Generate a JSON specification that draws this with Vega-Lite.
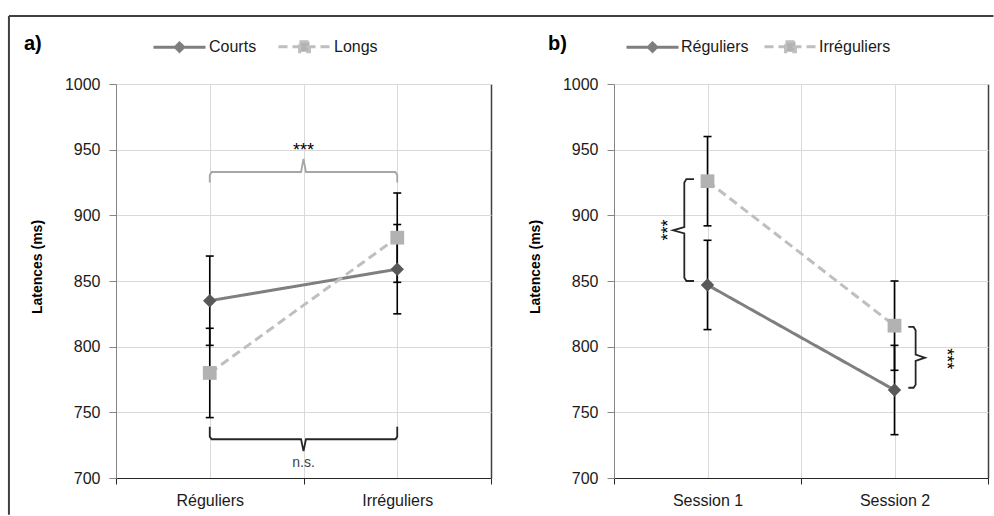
{
  "$schema": "https://vega.github.io/schema/vega-lite/v6.json",
  "background": "white",
  "padding": {"left": 7, "top": 14, "right": 0, "bottom": 0},
  "spacing": 123,
  "bounds": "flush",
  "resolve": {"scale": {"color": "independent", "strokeDash": "independent", "x": "independent", "y": "independent"}, "legend": {"color": "independent"}},
  "config": {
    "font": "Liberation Sans",
    "view": {"stroke": null},
    "axisX": {"domainColor": "#262626", "tickColor": "#262626", "tickSize": 6, "labelPadding": 8, "labelFontSize": 16, "labelColor": "#1a1a1a", "labelFlush": false, "labelOverlap": false, "title": null, "grid": true, "domainWidth": 1.2},
    "axisY": {"domainColor": "#868686", "tickColor": "#868686", "tickSize": 7, "labelPadding": 9, "labelFontSize": 16, "labelColor": "#1a1a1a", "format": "d", "grid": true, "gridColor": "#d9d9d9", "titleFontSize": 14, "titleFontWeight": "bold", "titleColor": "#000000", "titleX": -72, "titleY": 182.5}
  },
  "datasets": {
    "a": [
      {"serie": "Courts", "cond": 1, "mean": 835, "lo": 801, "hi": 869},
      {"serie": "Courts", "cond": 2, "mean": 859, "lo": 825, "hi": 893},
      {"serie": "Longs", "cond": 1, "mean": 780, "lo": 746, "hi": 814},
      {"serie": "Longs", "cond": 2, "mean": 883, "lo": 849, "hi": 917}
    ],
    "b": [
      {"serie": "Réguliers", "session": 1, "mean": 847, "lo": 813, "hi": 881},
      {"serie": "Réguliers", "session": 2, "mean": 767, "lo": 733, "hi": 801},
      {"serie": "Irréguliers", "session": 1, "mean": 926, "lo": 892, "hi": 960},
      {"serie": "Irréguliers", "session": 2, "mean": 816, "lo": 782, "hi": 850}
    ],
    "bracketsA": [
      {"id": "sig", "ord": 1, "x": 1, "y": 925},
      {"id": "sig", "ord": 2, "x": 1, "y": 930.5},
      {"id": "sig", "ord": 3, "x": 1.01, "y": 933},
      {"id": "sig", "ord": 4, "x": 1.487, "y": 933},
      {"id": "sig", "ord": 5, "x": 1.5, "y": 943},
      {"id": "sig", "ord": 6, "x": 1.513, "y": 933},
      {"id": "sig", "ord": 7, "x": 1.99, "y": 933},
      {"id": "sig", "ord": 8, "x": 2, "y": 930.5},
      {"id": "sig", "ord": 9, "x": 2, "y": 925},
      {"id": "ns", "ord": 1, "x": 1, "y": 739},
      {"id": "ns", "ord": 2, "x": 1, "y": 731.5},
      {"id": "ns", "ord": 3, "x": 1.01, "y": 729.5},
      {"id": "ns", "ord": 4, "x": 1.487, "y": 729.5},
      {"id": "ns", "ord": 5, "x": 1.5, "y": 720.5},
      {"id": "ns", "ord": 6, "x": 1.513, "y": 729.5},
      {"id": "ns", "ord": 7, "x": 1.99, "y": 729.5},
      {"id": "ns", "ord": 8, "x": 2, "y": 731.5},
      {"id": "ns", "ord": 9, "x": 2, "y": 739}
    ],
    "bracketsB": [
      {"id": "s1", "ord": 1, "x": 0.928, "y": 927.6},
      {"id": "s1", "ord": 2, "x": 0.887, "y": 927.6},
      {"id": "s1", "ord": 3, "x": 0.876, "y": 925},
      {"id": "s1", "ord": 4, "x": 0.876, "y": 891},
      {"id": "s1", "ord": 5, "x": 0.816, "y": 888.6},
      {"id": "s1", "ord": 6, "x": 0.876, "y": 886.2},
      {"id": "s1", "ord": 7, "x": 0.876, "y": 852.5},
      {"id": "s1", "ord": 8, "x": 0.887, "y": 850},
      {"id": "s1", "ord": 9, "x": 0.928, "y": 850},
      {"id": "s2", "ord": 1, "x": 2.074, "y": 815},
      {"id": "s2", "ord": 2, "x": 2.102, "y": 815},
      {"id": "s2", "ord": 3, "x": 2.113, "y": 812.5},
      {"id": "s2", "ord": 4, "x": 2.113, "y": 794},
      {"id": "s2", "ord": 5, "x": 2.163, "y": 791.6},
      {"id": "s2", "ord": 6, "x": 2.113, "y": 789.2},
      {"id": "s2", "ord": 7, "x": 2.113, "y": 771},
      {"id": "s2", "ord": 8, "x": 2.102, "y": 768.7},
      {"id": "s2", "ord": 9, "x": 2.074, "y": 768.7}
    ],
    "notesA": [
      {"id": "sig", "txt": "***", "x": 1.5, "y": 945.5},
      {"id": "ns", "txt": "n.s.", "x": 1.5, "y": 708.4}
    ],
    "notesB": [
      {"id": "s1", "txt": "***", "x": 0.819, "y": 888.8},
      {"id": "s2", "txt": "***", "x": 2.248, "y": 790.8}
    ]
  },
  "hconcat": [
    {
      "width": 375,
      "height": 394,
      "title": {"text": "a)", "anchor": "start", "frame": "group", "dx": -92, "dy": 59, "offset": 0, "baseline": "bottom", "fontSize": 20, "fontWeight": "bold", "color": "#000000"},
      "layer": [
        {
          "data": {"values": [{}]},
          "mark": {"type": "rule", "color": "#404040", "strokeWidth": 2},
          "encoding": {
            "x": {"datum": -0.071, "type": "quantitative", "scale": {"domain": [0.5, 2.5], "nice": false, "zero": false}},
            "x2": {"datum": 5.18},
            "y": {"datum": 1051.8, "type": "quantitative", "scale": {"domain": [700, 1000], "nice": false, "zero": false}}
          }
        },
        {
          "data": {"values": [{}]},
          "mark": {"type": "rule", "color": "#404040", "strokeWidth": 2},
          "encoding": {
            "x": {"datum": -0.071, "type": "quantitative", "scale": {"domain": [0.5, 2.5], "nice": false, "zero": false}},
            "y": {"datum": 1051.8, "type": "quantitative", "scale": {"domain": [700, 1000], "nice": false, "zero": false}},
            "y2": {"datum": 672}
          }
        },
        {
          "data": {"name": "bracketsA"},
          "transform": [{"filter": "datum.id === 'sig'"}],
          "mark": {"type": "line", "color": "#a6a6a6", "strokeWidth": 1.8},
          "encoding": {
            "x": {"field": "x", "type": "quantitative", "scale": {"domain": [0.5, 2.5], "nice": false, "zero": false}},
            "y": {"field": "y", "type": "quantitative", "scale": {"domain": [700, 1000], "nice": false, "zero": false}},
            "order": {"field": "ord"}
          }
        },
        {
          "data": {"name": "bracketsA"},
          "transform": [{"filter": "datum.id === 'ns'"}],
          "mark": {"type": "line", "color": "#262626", "strokeWidth": 1.8},
          "encoding": {
            "x": {"field": "x", "type": "quantitative", "scale": {"domain": [0.5, 2.5], "nice": false, "zero": false}},
            "y": {"field": "y", "type": "quantitative", "scale": {"domain": [700, 1000], "nice": false, "zero": false}},
            "order": {"field": "ord"}
          }
        },
        {
          "data": {"name": "notesA"},
          "transform": [{"filter": "datum.id === 'sig'"}],
          "mark": {"type": "text", "fontSize": 18, "baseline": "alphabetic", "align": "center", "color": "#000000"},
          "encoding": {
            "x": {"field": "x", "type": "quantitative", "scale": {"domain": [0.5, 2.5], "nice": false, "zero": false}},
            "y": {"field": "y", "type": "quantitative", "scale": {"domain": [700, 1000], "nice": false, "zero": false}},
            "text": {"field": "txt"}
          }
        },
        {
          "data": {"name": "notesA"},
          "transform": [{"filter": "datum.id === 'ns'"}],
          "mark": {"type": "text", "fontSize": 14, "baseline": "alphabetic", "align": "center", "color": "#404040"},
          "encoding": {
            "x": {"field": "x", "type": "quantitative", "scale": {"domain": [0.5, 2.5], "nice": false, "zero": false}},
            "y": {"field": "y", "type": "quantitative", "scale": {"domain": [700, 1000], "nice": false, "zero": false}},
            "text": {"field": "txt"}
          }
        },
        {
          "data": {"name": "a"},
          "mark": {"type": "line", "strokeWidth": 3},
          "encoding": {
            "x": {"field": "cond", "type": "quantitative", "scale": {"domain": [0.5, 2.5], "nice": false, "zero": false},
              "axis": {"values": [0.5, 1, 1.5, 2, 2.5], "labelExpr": "datum.value == 1 ? 'Réguliers' : datum.value == 2 ? 'Irréguliers' : ''",
                "gridColor": {"condition": {"test": "datum.value == 2.5", "value": "#404040"}, "value": "#d9d9d9"},
                "gridWidth": {"condition": {"test": "datum.value == 2.5", "value": 1.5}, "value": 1},
                "tickOpacity": {"condition": {"test": "datum.value == 1 || datum.value == 2", "value": 0}, "value": 1}}},
            "y": {"field": "mean", "type": "quantitative", "scale": {"domain": [700, 1000], "nice": false, "zero": false},
              "axis": {"values": [700, 750, 800, 850, 900, 950, 1000], "title": "Latences (ms)"}},
            "color": {"field": "serie", "type": "nominal", "scale": {"domain": ["Courts", "Longs"], "range": ["#7f7f7f", "#bfbfbf"]},
              "legend": {"orient": "none", "legendX": 36, "legendY": -65, "direction": "horizontal", "title": null, "padding": 0,
                "symbolSize": 2704, "symbolStrokeWidth": 3, "labelFontSize": 16, "labelColor": "#1a1a1a", "labelOffset": 2, "columnPadding": 15,
                "encode": {"symbols": {"update": {
                  "shape": {"signal": "datum.value === 'Courts' ? 'M-1,0H1M0,-0.16L0.16,0L0,0.16L-0.16,0Z' : 'M-1,0H1M-0.19,-0.19H0.19V0.19H-0.19Z'"},
                  "fill": {"signal": "datum.value === 'Courts' ? '#595959' : '#b2b2b2'"},
                  "fillOpacity": {"value": 1},
                  "opacity": {"value": 1},
                  "strokeDash": {"signal": "datum.value === 'Courts' ? [1, 0] : [7, 4]"}
                }}}}},
            "strokeDash": {"field": "serie", "type": "nominal", "scale": {"domain": ["Courts", "Longs"], "range": [[1, 0], [9, 5]]}, "legend": null}
          }
        },
        {
          "data": {"name": "a"},
          "mark": {"type": "rule", "color": "#000000", "strokeWidth": 1.6},
          "encoding": {
            "x": {"field": "cond", "type": "quantitative", "scale": {"domain": [0.5, 2.5], "nice": false, "zero": false}},
            "y": {"field": "lo", "type": "quantitative", "scale": {"domain": [700, 1000], "nice": false, "zero": false}},
            "y2": {"field": "hi"}
          }
        },
        {
          "data": {"name": "a"},
          "transform": [{"fold": ["lo", "hi"], "as": ["bound", "yv"]}],
          "mark": {"type": "tick", "orient": "horizontal", "color": "#000000", "size": 8, "thickness": 1.6, "opacity": 1},
          "encoding": {
            "x": {"field": "cond", "type": "quantitative", "scale": {"domain": [0.5, 2.5], "nice": false, "zero": false}},
            "y": {"field": "yv", "type": "quantitative", "scale": {"domain": [700, 1000], "nice": false, "zero": false}}
          }
        },
        {
          "data": {"name": "a"},
          "transform": [{"filter": "datum.serie === 'Courts'"}],
          "mark": {"type": "point", "shape": "diamond", "filled": true, "size": 180, "opacity": 1, "strokeWidth": 0, "color": "#595959"},
          "encoding": {
            "x": {"field": "cond", "type": "quantitative", "scale": {"domain": [0.5, 2.5], "nice": false, "zero": false}},
            "y": {"field": "mean", "type": "quantitative", "scale": {"domain": [700, 1000], "nice": false, "zero": false}}
          }
        },
        {
          "data": {"name": "a"},
          "transform": [{"filter": "datum.serie === 'Longs'"}],
          "mark": {"type": "point", "shape": "square", "filled": true, "size": 190, "opacity": 1, "strokeWidth": 0, "color": "#b2b2b2"},
          "encoding": {
            "x": {"field": "cond", "type": "quantitative", "scale": {"domain": [0.5, 2.5], "nice": false, "zero": false}},
            "y": {"field": "mean", "type": "quantitative", "scale": {"domain": [700, 1000], "nice": false, "zero": false}}
          }
        }
      ]
    },
    {
      "width": 374,
      "height": 394,
      "title": {"text": "b)", "anchor": "start", "frame": "group", "dx": -66, "dy": 55, "offset": 0, "baseline": "bottom", "fontSize": 20, "fontWeight": "bold", "color": "#000000"},
      "layer": [
        {
          "data": {"name": "bracketsB"},
          "mark": {"type": "line", "color": "#262626", "strokeWidth": 1.8},
          "encoding": {
            "x": {"field": "x", "type": "quantitative", "scale": {"domain": [0.5, 2.5], "nice": false, "zero": false}},
            "y": {"field": "y", "type": "quantitative", "scale": {"domain": [700, 1000], "nice": false, "zero": false}},
            "detail": {"field": "id"},
            "order": {"field": "ord"}
          }
        },
        {
          "data": {"name": "notesB"},
          "transform": [{"filter": "datum.id === 's1'"}],
          "mark": {"type": "text", "fontSize": 18, "baseline": "alphabetic", "align": "center", "angle": 270, "color": "#000000"},
          "encoding": {
            "x": {"field": "x", "type": "quantitative", "scale": {"domain": [0.5, 2.5], "nice": false, "zero": false}},
            "y": {"field": "y", "type": "quantitative", "scale": {"domain": [700, 1000], "nice": false, "zero": false}},
            "text": {"field": "txt"}
          }
        },
        {
          "data": {"name": "notesB"},
          "transform": [{"filter": "datum.id === 's2'"}],
          "mark": {"type": "text", "fontSize": 18, "baseline": "alphabetic", "align": "center", "angle": 90, "color": "#000000"},
          "encoding": {
            "x": {"field": "x", "type": "quantitative", "scale": {"domain": [0.5, 2.5], "nice": false, "zero": false}},
            "y": {"field": "y", "type": "quantitative", "scale": {"domain": [700, 1000], "nice": false, "zero": false}},
            "text": {"field": "txt"}
          }
        },
        {
          "data": {"name": "b"},
          "mark": {"type": "line", "strokeWidth": 3},
          "encoding": {
            "x": {"field": "session", "type": "quantitative", "scale": {"domain": [0.5, 2.5], "nice": false, "zero": false},
              "axis": {"values": [0.5, 1, 1.5, 2, 2.5], "labelExpr": "datum.value == 1 ? 'Session 1' : datum.value == 2 ? 'Session 2' : ''",
                "gridColor": {"condition": {"test": "datum.value == 2.5", "value": "#404040"}, "value": "#d9d9d9"},
                "gridWidth": {"condition": {"test": "datum.value == 2.5", "value": 1.5}, "value": 1},
                "tickOpacity": {"condition": {"test": "datum.value == 1 || datum.value == 2", "value": 0}, "value": 1}}},
            "y": {"field": "mean", "type": "quantitative", "scale": {"domain": [700, 1000], "nice": false, "zero": false},
              "axis": {"values": [700, 750, 800, 850, 900, 950, 1000], "title": "Latences (ms)"}},
            "color": {"field": "serie", "type": "nominal", "scale": {"domain": ["Réguliers", "Irréguliers"], "range": ["#7f7f7f", "#bfbfbf"]},
              "legend": {"orient": "none", "legendX": 11, "legendY": -65, "direction": "horizontal", "title": null, "padding": 0,
                "symbolSize": 2704, "symbolStrokeWidth": 3, "labelFontSize": 16, "labelColor": "#1a1a1a", "labelOffset": 1, "columnPadding": 9,
                "encode": {"symbols": {"update": {
                  "shape": {"signal": "datum.value === 'Réguliers' ? 'M-1,0H1M0,-0.16L0.16,0L0,0.16L-0.16,0Z' : 'M-1,0H1M-0.19,-0.19H0.19V0.19H-0.19Z'"},
                  "fill": {"signal": "datum.value === 'Réguliers' ? '#595959' : '#b2b2b2'"},
                  "fillOpacity": {"value": 1},
                  "opacity": {"value": 1},
                  "strokeDash": {"signal": "datum.value === 'Réguliers' ? [1, 0] : [7, 4]"}
                }}}}},
            "strokeDash": {"field": "serie", "type": "nominal", "scale": {"domain": ["Réguliers", "Irréguliers"], "range": [[1, 0], [9, 5]]}, "legend": null}
          }
        },
        {
          "data": {"name": "b"},
          "mark": {"type": "rule", "color": "#000000", "strokeWidth": 1.6},
          "encoding": {
            "x": {"field": "session", "type": "quantitative", "scale": {"domain": [0.5, 2.5], "nice": false, "zero": false}},
            "y": {"field": "lo", "type": "quantitative", "scale": {"domain": [700, 1000], "nice": false, "zero": false}},
            "y2": {"field": "hi"}
          }
        },
        {
          "data": {"name": "b"},
          "transform": [{"fold": ["lo", "hi"], "as": ["bound", "yv"]}],
          "mark": {"type": "tick", "orient": "horizontal", "color": "#000000", "size": 8, "thickness": 1.6, "opacity": 1},
          "encoding": {
            "x": {"field": "session", "type": "quantitative", "scale": {"domain": [0.5, 2.5], "nice": false, "zero": false}},
            "y": {"field": "yv", "type": "quantitative", "scale": {"domain": [700, 1000], "nice": false, "zero": false}}
          }
        },
        {
          "data": {"name": "b"},
          "transform": [{"filter": "datum.serie === 'Réguliers'"}],
          "mark": {"type": "point", "shape": "diamond", "filled": true, "size": 180, "opacity": 1, "strokeWidth": 0, "color": "#595959"},
          "encoding": {
            "x": {"field": "session", "type": "quantitative", "scale": {"domain": [0.5, 2.5], "nice": false, "zero": false}},
            "y": {"field": "mean", "type": "quantitative", "scale": {"domain": [700, 1000], "nice": false, "zero": false}}
          }
        },
        {
          "data": {"name": "b"},
          "transform": [{"filter": "datum.serie === 'Irréguliers'"}],
          "mark": {"type": "point", "shape": "square", "filled": true, "size": 190, "opacity": 1, "strokeWidth": 0, "color": "#b2b2b2"},
          "encoding": {
            "x": {"field": "session", "type": "quantitative", "scale": {"domain": [0.5, 2.5], "nice": false, "zero": false}},
            "y": {"field": "mean", "type": "quantitative", "scale": {"domain": [700, 1000], "nice": false, "zero": false}}
          }
        }
      ]
    }
  ]
}
